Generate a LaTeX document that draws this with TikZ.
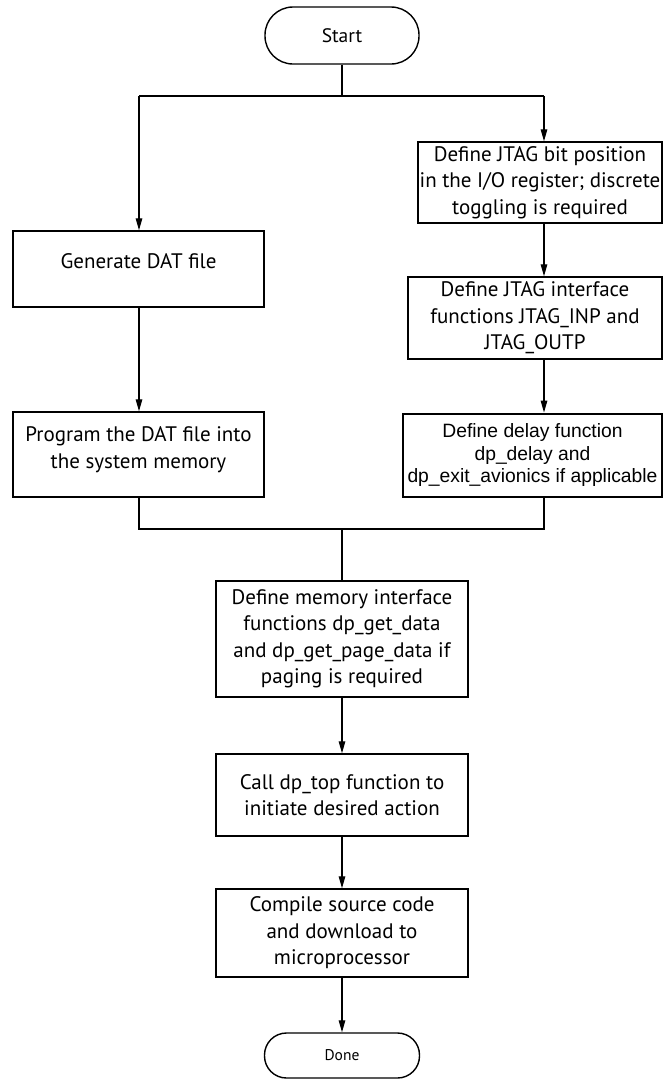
\documentclass[tikz,border=0pt]{standalone}
\usepackage{fontspec}
\setmainfont{PT Sans}
\newfontfamily\arialfont{Liberation Sans}
\usetikzlibrary{arrows.meta}
\begin{document}
\begin{tikzpicture}[x=1pt,y=-1pt,
  txt/.style={font=\fontsize{21}{26.5}\selectfont},
  box/.style={draw,line width=1.4pt,align=center,inner sep=0pt,txt},
  term/.style={box},
  conn/.style={line width=1.3pt},
  arr/.style={conn,-{Triangle[width=6.5pt,length=12pt]}}]
\useasboundingbox (0,0) rectangle (663,1079);
% nodes
\node[term,rounded corners=28pt,minimum width=154pt,minimum height=57pt,font=\fontsize{19.5}{24}\selectfont] (start) at (342,35.5) {Start};
\node[box,minimum width=251pt,minimum height=76pt,
  label={[txt,yshift=8pt]center:Generate DAT file}] (gen) at (138.5,269) {};
\node[box,minimum width=251pt,minimum height=85pt,
  label={[txt,align=center,yshift=5pt]center:Program the DAT file into\\the system memory}] (prog) at (138.5,454.5) {};
\node[box,minimum width=244pt,minimum height=81pt] (j1) at (540,182.5) {Define JTAG bit position\\in the I/O register; discrete\\toggling is required};
\node[box,minimum width=254pt,minimum height=82pt] (j2) at (535,318) {Define JTAG interface\\functions JTAG\_INP and\\JTAG\_OUTP};
\node[box,line width=2.8pt,minimum width=259pt,minimum height=83pt,font=\arialfont\fontsize{19.3}{22.5}\selectfont] (delay) at (532.5,455.5) {Define delay function\\dp\_delay and\\dp\_exit\_avionics if applicable};
\node[box,minimum width=252pt,minimum height=116pt] (mem) at (342,639) {Define memory interface\\functions dp\_get\_data\\and dp\_get\_page\_data if\\paging is required};
\node[box,minimum width=252pt,minimum height=82pt] (call) at (342,795) {Call dp\_top function to\\initiate desired action};
\node[box,minimum width=252pt,minimum height=88pt] (comp) at (342,933) {Compile source code\\and download to\\microprocessor};
\node[term,rounded corners=22pt,minimum width=155pt,minimum height=45pt,font=\fontsize{15.5}{18}\selectfont] (done) at (342,1055.5) {Done};
% junction coordinates
\coordinate (lx) at (139,0);
\coordinate (rx) at (544,0);
\coordinate (top) at (342,96);
\coordinate (bot) at (342,529);
% connectors
\draw[conn] (start.south) -- (top);
\draw[conn] (top -| lx) -- (top -| rx);
\draw[arr] (top -| lx) -- (gen.north -| lx);
\draw[arr] (top -| rx) -- (j1.north -| rx);
\draw[arr] (gen.south -| lx) -- (prog.north -| lx);
\draw[arr] (j1.south -| rx) -- (j2.north -| rx);
\draw[arr] (j2.south -| rx) -- (delay.north -| rx);
\draw[conn] (prog.south -| lx) -- (bot -| lx) -- (bot -| rx) -- (delay.south -| rx);
\draw[conn] (bot) -- (mem.north);
\draw[arr] (mem.south) -- (call.north);
\draw[arr] (call.south) -- (comp.north);
\draw[arr] (comp.south) -- (done.north);
\end{tikzpicture}
\end{document}
